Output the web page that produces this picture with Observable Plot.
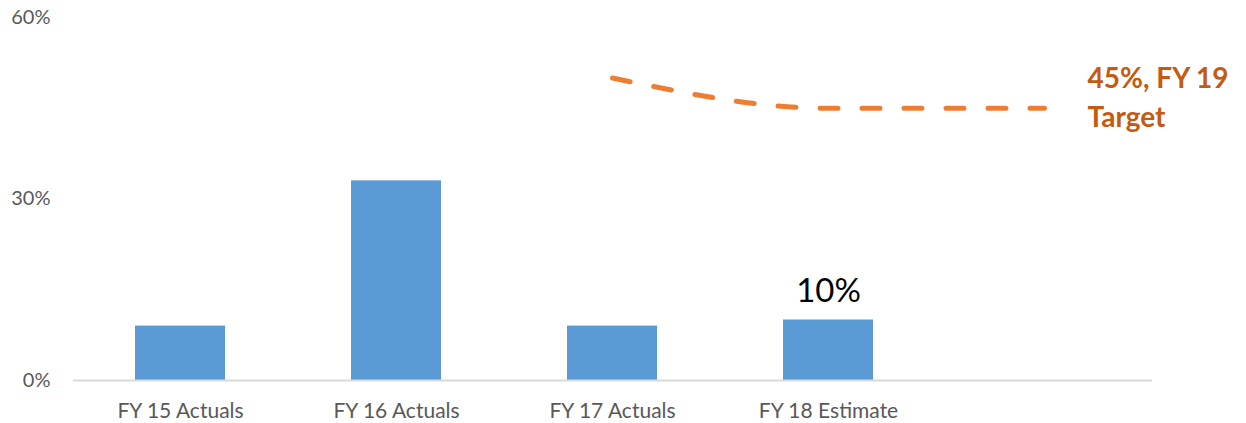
<!DOCTYPE html>
<html>
<head>
<meta charset="utf-8">
<script src="https://cdn.jsdelivr.net/npm/d3@7"></script>
<script src="https://cdn.jsdelivr.net/npm/@observablehq/plot@0.6"></script>
<style>
  html, body { margin: 0; padding: 0; background: #fff; }
  #chart svg { display: block; }
</style>
</head>
<body>
<div id="chart"></div>
<script>
// Fiscal years on the x axis; the last slot holds only the target line.
const categories = ["FY 15 Actuals", "FY 16 Actuals", "FY 17 Actuals", "FY 18 Estimate", "FY 19 Target"];
const tickLabels = ["FY 15 Actuals", "FY 16 Actuals", "FY 17 Actuals", "FY 18 Estimate", ""];
// Bar values (percent)
const barCategories = ["FY 15 Actuals", "FY 16 Actuals", "FY 17 Actuals", "FY 18 Estimate"];
const barValues = [9, 33, 9, 10];
// Dashed path toward the FY 19 target (percent)
const targetCategories = ["FY 17 Actuals", "FY 18 Estimate", "FY 19 Target"];
const targetValues = [50, 45, 45];
const targetLabel = "45%, FY 19\nTarget";
// Only the FY 18 estimate carries a value label
const labelledCategory = "FY 18 Estimate";
const yTicks = [0, 30, 60];

const bars = barCategories.map((c, i) => ({category: c, value: barValues[i]}));
const target = targetCategories.map((c, i) => ({category: c, value: targetValues[i]}));
const pct = v => `${v}%`;

const chart = Plot.plot({
  width: 1246,
  height: 423,
  marginTop: 17,
  marginBottom: 43,
  marginLeft: 73,
  marginRight: 94,
  style: {fontFamily: "Lato, sans-serif", background: "#fff"},
  x: {
    domain: categories,
    paddingInner: 0.583,
    paddingOuter: 0.28,
    axis: null
  },
  y: {
    domain: [0, 60],
    axis: null
  },
  marks: [
    Plot.axisY({
      ticks: yTicks,
      tickFormat: pct,
      tickSize: 0,
      tickPadding: 23,
      label: null,
      fontSize: 20,
      fill: "#595959"
    }),
    Plot.axisX({
      tickFormat: (d) => tickLabels[categories.indexOf(d)],
      tickSize: 0,
      tickPadding: 23,
      label: null,
      fontSize: 21,
      fill: "#595959"
    }),
    Plot.barY(bars, {x: "category", y: "value", fill: "#5B9BD5"}),
    Plot.ruleY([0], {stroke: "#D9D9D9", strokeWidth: 2}),
    Plot.text(bars.filter(d => d.category === labelledCategory), {
      x: "category",
      y: "value",
      text: d => pct(d.value),
      dy: -29,
      fontSize: 33,
      fill: "#000"
    }),
    Plot.line(target, {
      x: "category",
      y: "value",
      curve: "monotone-x",
      stroke: "#ED7D31",
      strokeWidth: 5,
      strokeDasharray: "18,24",
      strokeLinecap: "round"
    }),
    Plot.text([target[target.length - 1]], {
      x: "category",
      y: "value",
      text: () => targetLabel,
      dx: 43,
      dy: -13,
      textAnchor: "start",
      lineAnchor: "middle",
      lineHeight: 1.4,
      fontSize: 28,
      fontWeight: "bold",
      fill: "#C55A11"
    })
  ]
});

document.getElementById("chart").append(chart);
</script>
</body>
</html>
